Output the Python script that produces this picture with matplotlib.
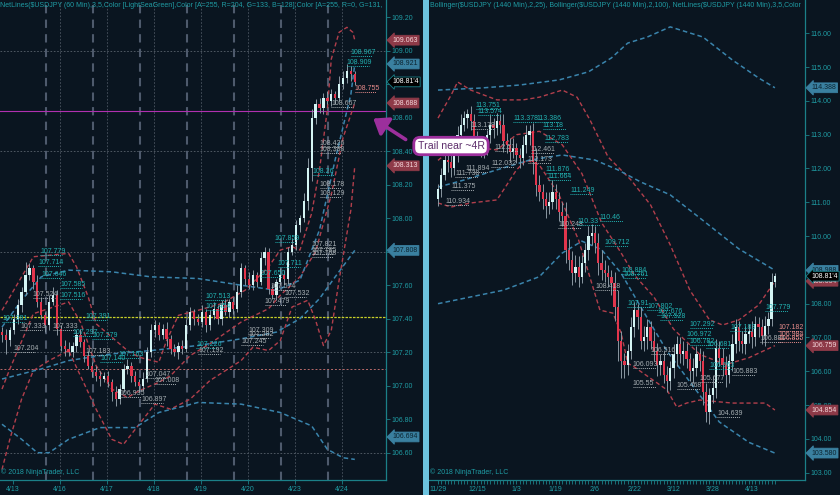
import numpy as np
import matplotlib
matplotlib.use("Agg")
import matplotlib.pyplot as plt
from matplotlib.patches import FancyArrowPatch, Rectangle

plt.rcParams['font.family'] = ['Liberation Sans', 'DejaVu Sans']

# ---------------- data: left panel (USDJPY 60 min, shown as 2-hour bars) ----------------
L_open0 = 107.32
L_close = [107.30, 107.27, 107.33, 107.40, 107.48, 107.56, 107.66, 107.70, 107.62, 107.50,
           107.42, 107.36, 107.50, 107.54, 107.34, 107.24, 107.22, 107.20, 107.24, 107.30,
           107.26, 107.18, 107.12, 107.08, 107.06, 107.04, 107.06, 107.02, 106.96, 106.92,
           106.98, 107.10, 107.12, 107.06, 107.02, 107.00, 107.04, 107.20, 107.33, 107.36,
           107.30, 107.34, 107.28, 107.22, 107.20, 107.24, 107.22, 107.36, 107.44, 107.40,
           107.38, 107.44, 107.36, 107.42, 107.46, 107.40, 107.48, 107.44, 107.50, 107.46,
           107.56, 107.70, 107.64, 107.60, 107.66, 107.62, 107.76, 107.80, 107.58, 107.54,
           107.62, 107.66, 107.64, 107.80, 107.84, 107.96, 108.00, 108.10, 108.30, 108.60,
           108.68, 108.66, 108.72, 108.70, 108.74, 108.72, 108.80, 108.84, 108.88, 108.86,
           108.814]
L_wick_up = [3, 4, 2, 3, 4, 3, 8, 3, 2, 4, 3, 2, 4, 5, 3, 2, 3, 4, 2, 3,
             4, 2, 3, 2, 4, 3, 2, 3, 2, 4, 3, 3, 4, 2, 3, 2, 4, 3, 4, 3,
             2, 3, 4, 2, 3, 2, 3, 4, 3, 2, 3, 4, 2, 3, 4, 2, 3, 4, 2, 3,
             4, 3, 2, 4, 3, 2, 4, 3, 2, 3, 2, 4, 3, 3, 4, 3, 2, 5, 6, 5,
             3, 4, 3, 4, 3, 2, 5, 4, 4, 3, 2]
L_wick_dn = [4, 8, 3, 2, 3, 4, 2, 3, 4, 3, 2, 4, 3, 2, 4, 3, 4, 2, 3, 4,
             3, 4, 2, 3, 3, 4, 2, 3, 5, 4, 3, 2, 3, 4, 2, 4, 3, 2, 3, 4,
             3, 2, 4, 3, 2, 4, 3, 2, 3, 4, 2, 3, 4, 3, 2, 3, 4, 2, 3, 3,
             2, 3, 4, 2, 3, 3, 2, 4, 3, 2, 3, 2, 4, 3, 2, 3, 4, 2, 5, 8,
             4, 3, 4, 2, 3, 4, 2, 3, 3, 4, 2]
L_dates = ['4/13', '4/16', '4/17', '4/18', '4/19', '4/20', '4/23', '4/24']
L_date_bar = [2.75, 14.75, 26.75, 38.75, 50.75, 62.75, 74.75, 86.75]
L_session_bar = [11.2, 23.2, 35.2, 47.2, 59.2, 71.2, 83.2]
L_grid_levels = [109.0, 108.4, 107.8, 107.2, 106.6]
L_yticks = [106.6, 106.8, 107.0, 107.2, 107.4, 107.6, 107.8, 108.0, 108.2, 108.4, 108.6, 108.8, 109.0, 109.2]
L_trail_level = 108.64
L_yellow_level = 107.41
L_pink_level = 107.10

L_UB25_x = [0, 2, 8, 17, 19, 22, 24, 28, 32, 35, 40, 42, 45, 50, 56, 62, 68, 71, 74, 76, 79, 81, 83, 84, 86, 88, 89.5, 90]
L_UB25_y = [107.45, 107.53, 107.77, 107.79, 107.71, 107.53, 107.37, 107.29, 107.21, 107.17,
            107.14, 107.27, 107.42, 107.45, 107.49, 107.57, 107.71, 107.81, 107.83, 107.81,
            108.03, 108.29, 108.65, 108.95, 109.11, 109.14, 109.11, 109.063]
L_MB25_x = [0, 2, 8, 17, 20, 24, 28, 32, 35, 40, 43, 48, 53, 61, 68, 71, 76, 80, 84, 87, 90]
L_MB25_y = [106.98, 107.10, 107.43, 107.50, 107.38, 107.12, 106.98, 106.93, 106.97, 107.02,
            107.06, 107.18, 107.25, 107.38, 107.46, 107.54, 107.65, 107.80, 108.14, 108.48, 108.688]
L_LB25_x = [0, 2, 5, 8, 12, 17, 20, 24, 28, 31, 35, 39, 43, 48, 53, 61, 64, 68, 71, 74, 78, 80, 82, 84, 86, 89, 90]
L_LB25_y = [106.50, 106.68, 106.92, 107.09, 107.15, 107.21, 107.06, 106.86, 106.68, 106.65,
            106.77, 106.89, 106.86, 106.92, 107.03, 107.15, 107.23, 107.21, 107.27, 107.47,
            107.51, 107.39, 107.24, 107.33, 107.63, 108.05, 108.313]
L_UB100_x = [0, 5, 10, 17, 28, 38, 50, 61, 70, 76, 81, 85, 89, 90]
L_UB100_y = [107.35, 107.51, 107.65, 107.69, 107.68, 107.65, 107.64, 107.60, 107.57, 107.63, 107.93, 108.35, 108.74, 108.921]
L_MB100_x = [0, 5, 10, 17, 28, 38, 50, 61, 70, 76, 81, 85, 90]
L_MB100_y = [107.04, 107.07, 107.10, 107.15, 107.19, 107.21, 107.24, 107.28, 107.32, 107.40, 107.52, 107.65, 107.808]
L_LB100_x = [0, 5, 9, 12, 17, 25, 34, 40, 50, 61, 71, 79, 83, 87, 90]
L_LB100_y = [106.77, 106.68, 106.60, 106.60, 106.68, 106.75, 106.75, 106.84, 106.90, 106.89, 106.84, 106.76, 106.62, 106.57, 106.56]

L_NL_bar = [9.7, 9.2, 10, 14.8, 14.8, 7.9, 4.6, 13, 2.8, 21.2, 18, 23, 21.2, 25, 29.6, 36.5, 39, 35.5, 30, 0,
            51.8, 52, 62.8, 62.8, 61, 49.5, 50, 70.4, 66, 68.5, 72, 67, 69.6, 79, 79, 79, 81, 81, 79.3, 81,
            81, 84, 90, 88, 89]
L_NL_txt = ['107.779', '107.714', '107.646', '107.585', '107.516', '107.524', '107.333', '107.333', '107.204', '107.391',
            '107.297', '107.279', '107.183', '107.140', '107.163', '107.047', '107.008', '106.897', '106.935', '107.381',
            '107.513', '107.454', '107.309', '107.282', '107.245', '107.226', '107.192', '107.711', '107.650', '107.574',
            '107.532', '107.479', '107.859', '107.821', '107.785', '107.768', '108.178', '108.129', '108.26', '108.426',
            '108.388', '108.667', '108.755', '108.909', '108.967']
L_NL_kind = ['c', 'c', 'c', 'c', 'c', 'g', 'g', 'g', 'g', 'c',
             'c', 'c', 'g', 'c', 'c', 'g', 'g', 'g', 'g', 'c',
             'c', 'c', 'g', 'g', 'g', 'c', 'g', 'c', 'c', 'g',
             'g', 'g', 'c', 'g', 'g', 'g', 'g', 'g', 'c', 'g',
             'g', 'g', 'p', 'c', 'c']
L_tag_val = [109.063, 108.921, 108.688, 108.313, 107.808, 106.694, 108.814]
L_tag_txt = ['109.063', '108.921', '108.688', '108.313', '107.808', '106.694', "108.81'4"]
L_tag_kind = ['r', 'b', 'r', 'r', 'b', 'b', 'k']

# ---------------- data: right panel (USDJPY daily) ----------------
R_open0 = 111.10
R_close = [111.40, 111.80, 112.25, 112.20, 112.00, 112.50, 113.00, 113.30, 113.50, 113.60,
           113.40, 112.80, 112.60, 112.70, 112.60, 113.00, 113.30, 113.20, 113.40, 113.30,
           112.80, 112.70, 112.50, 112.60, 112.40, 112.30, 112.70, 113.00, 113.10, 112.20,
           111.50, 111.30, 111.10, 110.90, 111.00, 111.30, 111.10, 110.70, 110.60, 109.60,
           109.30, 108.90, 109.10, 108.80, 109.20, 109.60, 110.00, 110.10, 109.80, 109.20,
           109.00, 108.90, 108.80, 108.60, 107.90, 106.90, 106.30, 106.20, 106.60, 107.30,
           107.80, 107.60, 106.90, 107.00, 107.30, 106.90, 106.60, 106.20, 106.30, 105.90,
           105.70, 106.10, 106.50, 106.80, 106.50, 106.60, 106.35, 106.00, 106.10, 106.50,
           106.30, 105.40, 104.80, 105.30, 105.50, 106.70, 106.40, 106.20, 105.90, 106.30,
           106.80, 107.30, 106.90, 106.80, 107.10, 107.20, 107.00, 107.40, 107.30, 107.05,
           107.35, 107.55, 108.65, 108.814]
R_wick_up = [15, 20, 25, 30, 20, 35, 25, 30, 20, 15, 25, 20, 30, 25, 20, 15, 30, 20, 25, 20,
             30, 25, 20, 30, 15, 20, 25, 30, 20, 25, 40, 30, 25, 20, 30, 35, 25, 20, 30, 40,
             30, 25, 35, 30, 25, 20, 30, 25, 20, 30, 40, 30, 25, 20, 35, 50, 30, 25, 20, 30,
             25, 20, 30, 35, 25, 20, 30, 25, 20, 30, 25, 20, 30, 25, 20, 30, 25, 20, 30, 25,
             20, 30, 25, 20, 35, 25, 20, 30, 25, 20, 30, 25, 20, 30, 25, 20, 30, 25, 20, 25,
             30, 20, 25, 10]
R_wick_dn = [20, 25, 15, 30, 25, 20, 30, 25, 20, 30, 25, 30, 20, 25, 30, 20, 25, 30, 20, 25,
             30, 25, 30, 20, 25, 30, 20, 25, 30, 35, 30, 25, 30, 35, 25, 20, 30, 25, 30, 40,
             30, 35, 25, 30, 20, 25, 30, 25, 30, 35, 30, 25, 30, 35, 40, 60, 50, 40, 30, 25,
             30, 35, 25, 30, 35, 25, 30, 35, 30, 25, 30, 25, 30, 35, 25, 30, 25, 30, 35, 25,
             30, 40, 30, 35, 25, 30, 25, 30, 35, 25, 30, 25, 30, 25, 30, 25, 30, 25, 30, 25,
             30, 25, 20, 15]
R_dates = ['11/29', '12/15', '1/3', '1/19', '2/6', '2/22', '3/12', '3/28', '4/13']
R_date_bar = [0, 12, 24, 36, 48, 60, 72, 84, 96]
R_yticks = [103, 104, 105, 106, 107, 108, 109, 110, 111, 112, 113, 114, 115, 116]

R_UB100_x = [0, 13, 25, 37, 46, 53, 58, 64, 71, 81, 90, 98, 103]
R_UB100_y = [114.32, 114.38, 114.47, 114.62, 114.86, 115.27, 115.71, 115.89, 116.19, 115.89, 115.21, 114.68, 114.388]
R_MB100_x = [0, 8, 18, 28, 38, 48, 55, 62, 71, 80, 92, 103]
R_MB100_y = [111.45, 111.66, 111.96, 112.25, 112.40, 112.25, 111.96, 111.60, 111.22, 110.54, 109.62, 108.988]
R_LB100_x = [0, 10, 20, 31, 38, 44, 50, 56, 62, 70, 80, 86, 95, 103]
R_LB100_y = [108.0, 108.2, 108.4, 108.8, 109.5, 109.85, 109.6, 108.9, 107.9, 106.6, 105.3, 104.5, 103.9, 103.58]
R_UB25_x = [0, 4, 6, 10, 18, 26, 31, 38, 42.5, 46.5, 52, 59, 65, 71, 77, 83, 87, 92, 98, 103]
R_UB25_y = [113.49, 114.17, 114.56, 114.32, 114.03, 114.03, 114.11, 114.32, 114.11, 113.43,
            112.34, 111.66, 110.92, 109.74, 108.40, 107.52, 107.37, 107.52, 107.96, 108.664]
R_MB25_x = [0, 6, 10, 18, 24, 31, 38, 44, 50, 56, 60, 66, 72, 80, 88, 95, 103]
R_MB25_y = [112.24, 112.73, 112.64, 112.55, 113.00, 113.10, 112.70, 111.85, 110.40, 109.50,
            108.85, 108.20, 107.25, 106.50, 106.20, 106.40, 106.759]
R_LB25_x = [0, 4, 10, 18, 20, 22, 24, 27, 31, 37, 43, 49.5, 53.5, 56, 58, 60, 70, 73, 76, 80, 90, 100, 103]
R_LB25_y = [110.98, 110.86, 110.98, 111.07, 111.36, 111.66, 111.96, 112.25, 112.10, 111.22,
            109.88, 107.81, 107.72, 107.13, 106.24, 106.13, 105.45, 104.94, 105.06, 105.15,
            105.06, 105.06, 104.854]

R_NL_bar = [11.6, 12.2, 23, 30, 32, 10, 32.7, 28.4, 17.4, 16.2, 8.3, 27.5, 5.2, 4, 2.4, 33, 33.6, 40.4, 36.7, 42.5,
            49.5, 51, 56, 56.6, 48, 57.8, 64, 67, 68, 77, 76, 77, 82, 65, 59.6, 59.6, 73, 80, 83, 90,
            85.3, 100, 89.3, 98.5, 104, 104, 104]
R_NL_txt = ['113.751', '113.574', '113.378', '113.386', '113.18', '113.178', '112.783', '112.461', '112.51', '112.032',
            '111.894', '112.173', '111.738', '111.375', '110.934', '111.876', '111.664', '111.249', '110.248', '110.33',
            '110.46', '109.712', '108.884', '108.761', '108.418', '107.91', '107.802', '107.676', '107.528', '107.292',
            '106.972', '106.782', '106.681', '106.516', '106.093', '105.55', '105.468', '105.677', '106.063', '105.883',
            '104.639', '107.779', '107.183', '106.881', '107.182', '106.984', '106.855']
R_NL_kind = ['c', 'c', 'c', 'c', 'c', 'g', 'c', 'g', 'g', 'g',
             'g', 'g', 'g', 'g', 'g', 'c', 'c', 'c', 'g', 'c',
             'c', 'c', 'c', 'c', 'g', 'c', 'c', 'c', 'c', 'c',
             'c', 'c', 'c', 'g', 'g', 'g', 'g', 'g', 'c', 'g',
             'g', 'c', 'c', 'g', 'p', 'p', 'p']
R_tag_val = [114.388, 108.988, 108.664, 106.759, 104.854, 103.580, 108.814]
R_tag_txt = ['114.388', '108.988', '108.664', '106.759', '104.854', '103.580', "108.81'4"]
R_tag_kind = ['b', 'b', 'r', 'r', 'r', 'b', 'k']

L_title = ("NetLines($USDJPY (60 Min),3,5,Color [LightSeaGreen],Color [A=255, R=204, G=133, B=128],"
           "Color [A=255, R=0, G=131,")
R_title = ("Bollinger($USDJPY (1440 Min),2,25), Bollinger($USDJPY (1440 Min),2,100), "
           "NetLines($USDJPY (1440 Min),3,5,Color")
COPY = "\u00a9 2018 NinjaTrader, LLC"
NOTE = "Trail near ~4R"

# ---------------- styles ----------------
BG = '#0a1520'
AXC = '#1b8088'
TXT = '#1f9ca4'
UP_C = '#d4f4f4'
DN_C = '#e2354c'
WICK = '#8a98a2'
RED_B = '#b23f4c'
BLUE_B = '#3a84ac'
KIND_COL = {'c': '#22b2b2', 'g': '#a6aeb2', 'p': '#e48a8a'}
TAG_FC = {'r': '#8e3a48', 'b': '#3a80a0', 'k': '#000000'}
TAG_TC = {'r': '#f4d6da', 'b': '#0c2430', 'k': '#ffffff'}
TAG_EC = {'r': '#8e3a48', 'b': '#3a80a0', 'k': AXC}

W, H = 840, 495
fig = plt.figure(figsize=(W / 100, H / 100), dpi=100, facecolor=BG)
axL = fig.add_axes([0 / W, 15 / H, 386 / W, 480 / H])
axR = fig.add_axes([429 / W, 15 / H, 376 / W, 480 / H])


def style(ax, xlim, ylim, yticks):
    ax.set_facecolor(BG)
    ax.set_xlim(*xlim)
    ax.set_ylim(*ylim)
    for s in ['top', 'left']:
        ax.spines[s].set_visible(False)
    for s in ['right', 'bottom']:
        ax.spines[s].set_color(AXC)
        ax.spines[s].set_linewidth(0.9)
    ax.yaxis.tick_right()
    ax.set_yticks(yticks)
    ax.set_yticklabels([f"{v:.2f}" for v in yticks])
    ax.tick_params(axis='y', colors=AXC, labelcolor=TXT, labelsize=5, length=3, width=0.6, pad=1)
    ax.tick_params(axis='x', which='both', colors=AXC, labelcolor=TXT, labelsize=5, length=3,
                   width=0.6, pad=1.5)


def candles(ax, open0, closes, wu, wd, width, minh):
    c = np.array(closes, float)
    o = np.concatenate([[open0], c[:-1]])
    hi = np.maximum(o, c) + np.array(wu) / 100
    lo = np.minimum(o, c) - np.array(wd) / 100
    x = np.arange(len(c))
    ax.vlines(x, lo, hi, color=WICK, lw=0.7, zorder=3)
    blo = np.minimum(o, c)
    bh = np.maximum(np.abs(c - o), minh)
    up = c >= o
    ax.bar(x[up], bh[up], width, bottom=blo[up], color=UP_C, lw=0, zorder=4)
    ax.bar(x[~up], bh[~up], width, bottom=blo[~up], color=DN_C, lw=0, zorder=4)


def bands(ax, red, blue):
    for xs, ys in red:
        ax.plot(xs, ys, color=RED_B, lw=1.0, ls=(0, (3, 2)), zorder=2)
    for xs, ys in blue:
        ax.plot(xs, ys, color=BLUE_B, lw=1.1, ls=(0, (3, 2)), zorder=2)


def netlines(ax, bars, txts, kinds, wlen):
    for b, t, k in zip(bars, txts, kinds):
        v = float(t)
        col = KIND_COL[k]
        ax.text(b, v, t, color=col, fontsize=5, ha='left', va='bottom', zorder=6, clip_on=True)
        ax.hlines(v, b, b + wlen, color=col, lw=0.7, ls=(0, (1, 1)), zorder=6)


def tags(ax, vals, txts, kinds):
    order = [i for i, k in enumerate(kinds) if k != 'k'] + [i for i, k in enumerate(kinds) if k == 'k']
    for i in order:
        k = kinds[i]
        ax.annotate(txts[i], xy=(1, vals[i]), xycoords=('axes fraction', 'data'),
                    xytext=(4.5, 0), textcoords='offset points', va='center', ha='left',
                    fontsize=5, color=TAG_TC[k], annotation_clip=False, zorder=12,
                    bbox=dict(boxstyle='larrow,pad=0.2', fc=TAG_FC[k], ec=TAG_EC[k], lw=0.6))


# ---------------- left panel ----------------
style(axL, (-0.51, 97.96), (106.437, 109.303), L_yticks)
axL.set_xticks(L_date_bar)
axL.set_xticklabels(L_dates)
for lv in L_grid_levels:
    axL.axhline(lv, color='#58626c', lw=0.6, ls=(0, (2, 2)), zorder=1)
for b in L_date_bar[1:]:
    axL.axvline(b, color='#4c5662', lw=0.6, ls=(0, (2, 2)), zorder=1)
for b in L_session_bar:
    axL.axvline(b, color='#4e5a6c', lw=1.5, ls=(0, (4, 3)), zorder=1)
axL.axhline(L_yellow_level, color='#c8d028', lw=0.9, ls=(0, (2, 1)), zorder=2)
axL.axhline(L_pink_level, color='#b86a6a', lw=0.7, ls=(0, (2, 2)), zorder=2)
axL.axhline(L_trail_level, color='#b030b0', lw=0.8, zorder=2)
bands(axL,
      [(L_UB25_x, L_UB25_y), (L_MB25_x, L_MB25_y), (L_LB25_x, L_LB25_y)],
      [(L_UB100_x, L_UB100_y), (L_MB100_x, L_MB100_y), (L_LB100_x, L_LB100_y)])
candles(axL, L_open0, L_close, L_wick_up, L_wick_dn, 0.6, 0.01)
netlines(axL, L_NL_bar, L_NL_txt, L_NL_kind, 5.5)
tags(axL, L_tag_val, L_tag_txt, L_tag_kind)
axL.text(0.0, 0.995, L_title, transform=axL.transAxes, fontsize=5.05, color=TXT,
         va='top', ha='left', zorder=8)
axL.text(0.002, 0.008, COPY, transform=axL.transAxes, fontsize=5, color=TXT,
         va='bottom', ha='left', zorder=8)

# ---------------- right panel ----------------
style(axR, (-2.75, 112.2), (102.784, 116.985), R_yticks)
axR.set_xticks(R_date_bar)
axR.set_xticklabels(R_dates)
axR.set_xticks(np.arange(len(R_close)), minor=True)
bands(axR,
      [(R_UB25_x, R_UB25_y), (R_MB25_x, R_MB25_y), (R_LB25_x, R_LB25_y)],
      [(R_UB100_x, R_UB100_y), (R_MB100_x, R_MB100_y), (R_LB100_x, R_LB100_y)])
candles(axR, R_open0, R_close, R_wick_up, R_wick_dn, 0.7, 0.05)
netlines(axR, R_NL_bar, R_NL_txt, R_NL_kind, 7)
tags(axR, R_tag_val, R_tag_txt, R_tag_kind)
axR.text(0.003, 0.995, R_title, transform=axR.transAxes, fontsize=5.08, color=TXT,
         va='top', ha='left', zorder=8)
axR.text(0.003, 0.008, COPY, transform=axR.transAxes, fontsize=5, color=TXT,
         va='bottom', ha='left', zorder=8)

# ---------------- separator and annotation ----------------
fig.add_artist(Rectangle((423 / W, 0), 6 / W, 1, transform=fig.transFigure,
                         facecolor='#6cc2de', edgecolor='none', zorder=1))
arrow = FancyArrowPatch(posA=(408 / W, 1 - 141 / H), posB=(371 / W, 1 - 117 / H),
                        transform=fig.transFigure, arrowstyle='-|>,head_length=0.6,head_width=0.45',
                        mutation_scale=14, color='#9c2f9c', lw=2.6, zorder=20)
fig.add_artist(arrow)
fig.text(451 / W, 1 - 146 / H, NOTE, fontsize=7.6, color='#5e2f6c', ha='center', va='center',
         zorder=21, bbox=dict(boxstyle='round,pad=0.35,rounding_size=0.6', fc='white',
                              ec='#9c2f9c', lw=2))

fig.savefig('out.png', dpi=100, facecolor=BG)
